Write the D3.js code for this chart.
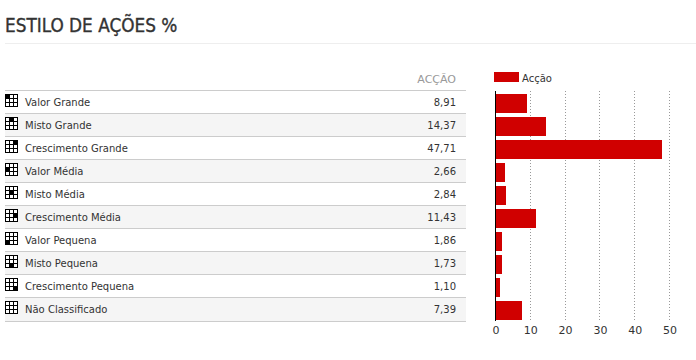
<!DOCTYPE html>
<html>
<head>
<meta charset="utf-8">
<script src="https://cdn.jsdelivr.net/npm/d3@7"></script>
<style>
  body { margin:0; background:#fff; }
  text { font-family:"DejaVu Sans", sans-serif; }
</style>
</head>
<body>
<div id="vis-container"></div>
<script>
//data
let categories = ["Valor Grande","Misto Grande","Crescimento Grande","Valor Média","Misto Média",
  "Crescimento Média","Valor Pequena","Misto Pequena","Crescimento Pequena","Não Classificado"];
let values = [8.91,14.37,47.71,2.66,2.84,11.43,1.86,1.73,1.10,7.39];
let valueLabels = ["8,91","14,37","47,71","2,66","2,84","11,43","1,86","1,73","1,10","7,39"];
//which cell of the 3x3 style box is black, [col,row], null = none
let styleCells = [[0,0],[1,0],[2,0],[0,1],[1,1],[2,1],[0,2],[1,2],[2,2],null];
let xTicks = [0,10,20,30,40,50];
let seriesName = "Acção";
let titleText = "ESTILO DE AÇÕES %";

let svg = d3.select("#vis-container")
  .append("svg")
  .attr("width", 696)
  .attr("height", 360)
  .style("display", "block");

//title
svg.append("text")
  .attr("x", 5).attr("y", 32)
  .attr("font-size", "18.8px")
  .attr("fill", "#333")
  .attr("stroke", "#333")
  .attr("stroke-width", 0.35)
  .style("font-family", "'DejaVu Sans Condensed', 'DejaVu Sans', sans-serif")
  .style("font-stretch", "condensed")
  .text(titleText);

svg.append("rect")
  .attr("x", 5).attr("y", 43).attr("width", 691).attr("height", 1)
  .attr("fill", "#eee");

//table rows
let rowY = d3.scaleBand()
  .domain(categories)
  .range([91, 321]);

let rows = svg.append("g").selectAll("g")
  .data(categories)
  .enter().append("g")
  .attr("transform", d=>`translate(0,${rowY(d)})`);

rows.append("rect")
  .attr("x", 5).attr("y", 0)
  .attr("width", 461).attr("height", rowY.bandwidth())
  .attr("fill", (d,i)=>{return i%2 ? "#f5f5f5" : "#fff";});

rows.append("rect")
  .attr("x", 5).attr("y", -1)
  .attr("width", 461).attr("height", 1)
  .attr("fill", "#ccc");

svg.append("rect")
  .attr("x", 5).attr("y", 321)
  .attr("width", 461).attr("height", 1)
  .attr("fill", "#ccc");

rows.append("text")
  .attr("x", 25).attr("y", 15)
  .attr("font-size", "10px")
  .attr("fill", "#333")
  .text(d=>d);

rows.append("text")
  .attr("x", 456).attr("y", 15)
  .attr("font-size", "10px")
  .attr("fill", "#333")
  .attr("text-anchor", "end")
  .text((d,i)=>valueLabels[i]);

//column header
svg.append("text")
  .attr("x", 456).attr("y", 83)
  .attr("font-size", "11px")
  .attr("fill", "#999")
  .attr("text-anchor", "end")
  .text(seriesName.toUpperCase());

//style box icons
rows.each(function(d,i){
  let icon = d3.select(this).append("g").attr("transform", "translate(5,3)");
  icon.append("rect").attr("width", 13).attr("height", 13).attr("fill", "#000");
  for (let r=0; r<3; r++){
    for (let c=0; c<3; c++){
      let on = styleCells[i] && styleCells[i][0]==c && styleCells[i][1]==r;
      icon.append("rect")
        .attr("x", 1+c*4).attr("y", 1+r*4)
        .attr("width", 3).attr("height", 3)
        .attr("fill", on ? "#000" : "#fff");
    }
  }
});

//bar chart
let x = d3.scaleLinear()
  .domain([0,50])
  .range([495.5,669.5]);

let y = d3.scaleBand()
  .domain(categories)
  .range([92,322])
  .paddingInner(4/23)
  .paddingOuter(2/23);

//dotted grid
svg.append("g").selectAll("line")
  .data(xTicks.slice(1))
  .enter().append("line")
  .attr("x1", d=>Math.floor(x(d))+0.5)
  .attr("x2", d=>Math.floor(x(d))+0.5)
  .attr("y1", 91).attr("y2", 321)
  .attr("stroke", "#999")
  .attr("stroke-dasharray", "1,2");

svg.append("g").selectAll("rect")
  .data(values)
  .enter().append("rect")
  .attr("x", Math.round(x(0)))
  .attr("y", (d,i)=>y(categories[i]))
  .attr("width", d=>Math.ceil(x(d))-Math.round(x(0)))
  .attr("height", y.bandwidth())
  .attr("fill", "#d00000");

//axis
let xAxis = d3.axisBottom(x)
  .tickValues(xTicks)
  .tickSize(0)
  .tickPadding(5);

let xAxisGroup = svg.append("g")
  .attr("transform", "translate(0,321)")
  .call(xAxis);
xAxisGroup.select(".domain").remove();
xAxisGroup.selectAll("text")
  .attr("font-size", "11px")
  .attr("font-family", "DejaVu Sans")
  .attr("fill", "#333");

svg.append("line")
  .attr("x1", 495.5).attr("x2", 495.5)
  .attr("y1", 91).attr("y2", 321)
  .attr("stroke", "#000");

//legend
svg.append("rect")
  .attr("x", 494).attr("y", 72).attr("width", 25).attr("height", 10)
  .attr("fill", "#d00000");
svg.append("text")
  .attr("x", 522).attr("y", 82)
  .attr("font-size", "10px")
  .attr("fill", "#333")
  .text(seriesName);
</script>
</body>
</html>
